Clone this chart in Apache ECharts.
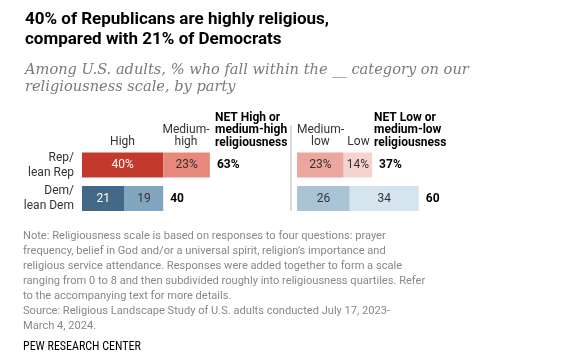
<!DOCTYPE html>
<html><head><meta charset="utf-8">
<script src="https://cdn.jsdelivr.net/npm/echarts@6/dist/echarts.min.js"></script>
<style>html,body{margin:0;padding:0;background:#fff}#c{width:579px;height:360px}</style>
</head><body><div id="c"></div>
<script>
const categories = ['Rep/\nlean Rep', 'Dem/\nlean Dem'];
const high = [40, 21];
const mediumHigh = [23, 19];
const mediumLow = [23, 26];
const low = [14, 34];
const netHigh = [63, 40];
const netLow = [37, 60];

const repColors = {high:'#c3392c', mediumHigh:'#e8887c', mediumLow:'#eba69d', low:'#f6d3ce'};
const demColors = {high:'#436986', mediumHigh:'#83a6c0', mediumLow:'#aac4d6', low:'#d6e4ee'};

const chart = echarts.init(document.getElementById('c'));
const SANS = 'Roboto, "Noto Sans", sans-serif';

function seg(name, arr, key, gi, labelColors) {
  return {
    name, type:'bar', stack:'s'+gi, xAxisIndex:gi, yAxisIndex:gi, barWidth:25,
    data: arr.map((v,i)=>({value:v, itemStyle:{color:(i===0?repColors:demColors)[key]}, label:{color:labelColors[i]}})),
    label:{show:true, position:'inside', fontFamily:SANS, fontSize:12,
      formatter:(p)=> p.dataIndex===0 ? p.value+'%' : ''+p.value},
    silent:true
  };
}
function netSeries(arr, gi){
  return {
    type:'bar', stack:'s'+gi, xAxisIndex:gi, yAxisIndex:gi, barWidth:25,
    data: arr.map(()=>0), itemStyle:{color:'transparent'},
    label:{show:true, position:'right', distance:7, fontFamily:SANS, fontSize:12, fontWeight:'bold', color:'#000',
      formatter:(p)=> p.dataIndex===0 ? arr[p.dataIndex]+'%' : ''+arr[p.dataIndex]},
    silent:true
  };
}

const gridTop = 148.25, gridH = 67;
const option = {
  animation:false,
  grid:[
    {left:82, top:gridTop, width:203, height:gridH},
    {left:297, top:gridTop, width:203, height:gridH}
  ],
  xAxis:[0,1].map(i=>({gridIndex:i, type:'value', min:0, max:100, show:false})),
  yAxis:[0,1].map(i=>({gridIndex:i, type:'category', data:categories, inverse:true,
    axisLine:{show:false}, axisTick:{show:false}, splitLine:{show:false},
    axisLabel:{show:i===0, margin:8, fontFamily:SANS, fontSize:12, color:'#333', lineHeight:15, align:'right'}})),
  series:[
    seg('High', high, 'high', 0, ['#fff','#fff']),
    seg('Medium-high', mediumHigh, 'mediumHigh', 0, ['#333','#333']),
    netSeries(netHigh, 0),
    seg('Medium-low', mediumLow, 'mediumLow', 1, ['#333','#333']),
    seg('Low', low, 'low', 1, ['#333','#333']),
    netSeries(netLow, 1)
  ],
  graphic:[
    {type:'text', left:25, top:10, style:{text:'40% of Republicans are highly religious,\ncompared with 21% of Democrats', font:'bold 17px '+SANS, fill:'#000', lineHeight:20}},
    {type:'text', left:25, top:62, style:{text:'Among U.S. adults, % who fall within the __ category on our\nreligiousness scale, by party', font:'italic 14.6px Georgia, "DejaVu Serif", serif', fill:'#7a7a7a', lineHeight:16.5}},
    {type:'text', x:122.5, y:142, style:{text:'High', font:'12px '+SANS, fill:'#333', textAlign:'center', textVerticalAlign:'middle'}},
    {type:'text', x:186, y:136, style:{text:'Medium-\nhigh', font:'12px '+SANS, fill:'#333', textAlign:'center', textVerticalAlign:'middle', lineHeight:12.5}},
    {type:'text', x:215, y:130, style:{text:'NET High or\nmedium-high\nreligiousness', font:'bold 12px '+SANS, fill:'#000', textAlign:'left', textVerticalAlign:'middle', lineHeight:12.5}},
    {type:'text', x:320.5, y:136, style:{text:'Medium-\nlow', font:'12px '+SANS, fill:'#333', textAlign:'center', textVerticalAlign:'middle', lineHeight:12.5}},
    {type:'text', x:358.5, y:142, style:{text:'Low', font:'12px '+SANS, fill:'#333', textAlign:'center', textVerticalAlign:'middle'}},
    {type:'text', x:374, y:130, style:{text:'NET Low or\nmedium-low\nreligiousness', font:'bold 12px '+SANS, fill:'#000', textAlign:'left', textVerticalAlign:'middle', lineHeight:12.5}},
    {type:'line', shape:{x1:291, y1:125, x2:291, y2:211}, style:{stroke:'#cfcfcf', lineWidth:1.5}},
    {type:'text', left:23, top:229, style:{text:'Note: Religiousness scale is based on responses to four questions: prayer\nfrequency, belief in God and/or a universal spirit, religion\u2019s importance and\nreligious service attendance. Responses were added together to form a scale\nranging from 0 to 8 and then subdivided roughly into religiousness quartiles. Refer\nto the accompanying text for more details.\nSource: Religious Landscape Study of U.S. adults conducted July 17, 2023-\nMarch 4, 2024.', font:'11.1px '+SANS, fill:'#888', lineHeight:15}},
    {type:'text', left:23, top:341, style:{text:'PEW RESEARCH CENTER', font:'12px "Liberation Sans Narrow", "Roboto Condensed", Roboto, sans-serif', fill:'#000'}}
  ]
};
chart.setOption(option);
</script></body></html>
